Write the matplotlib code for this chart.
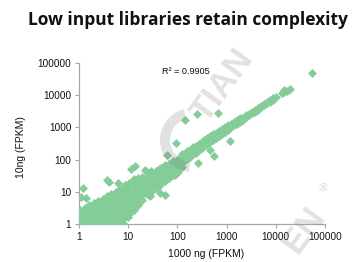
import matplotlib
matplotlib.use("Agg")
import matplotlib.pyplot as plt
from matplotlib.patches import Wedge

# ---------------- data (FPKM) ----------------
# dense low-expression cloud: 1000 ng (x) vs 10 ng (y)
cloud_x = (
    [1.07] * 4 + [1.32] * 4 + [1.62] * 5 + [2.0] * 5 + [2.45] * 6 + [3.02] * 6 +
    [3.72] * 7 + [4.57] * 7 + [5.62] * 8 + [6.92] * 8 + [8.51] * 8 + [10.5] * 8 +
    [12.9] * 8 + [15.8] * 7 + [19.5] * 6 + [24.0] * 6 + [29.5] * 6 + [36.3] * 5 +
    [44.7] * 5 + [55.0] * 5 + [67.6] * 4 + [83.2] * 4 + [102] * 4 + [126] * 4
)
cloud_y = [
    1.05, 1.45, 2.0, 2.75,
    1.23, 1.70, 2.34, 3.24,
    1.05, 1.45, 2.0, 2.75, 3.8,
    1.23, 1.70, 2.34, 3.24, 4.47,
    1.05, 1.45, 2.0, 2.75, 3.8, 5.25,
    1.23, 1.70, 2.34, 3.24, 4.47, 6.17,
    1.05, 1.45, 2.0, 2.75, 3.8, 5.25, 7.24,
    1.23, 1.70, 2.34, 3.24, 4.47, 6.17, 8.51,
    1.05, 1.45, 2.0, 2.75, 3.8, 5.25, 7.24, 10.0,
    1.32, 1.82, 2.51, 3.47, 4.79, 6.61, 9.12, 12.6,
    1.70, 2.34, 3.24, 4.47, 6.17, 8.51, 11.7, 16.2,
    2.0, 2.75, 3.8, 5.25, 7.24, 10.0, 13.8, 19.1,
    2.82, 3.89, 5.37, 7.41, 10.2, 14.1, 19.5, 25.1,
    3.8, 5.25, 7.24, 10.0, 13.8, 19.1, 26.3,
    5.62, 7.76, 10.7, 14.8, 20.4, 28.2,
    8.51, 11.7, 16.2, 22.4, 30.9, 39.8,
    10.0, 13.8, 19.1, 26.3, 36.3, 45.7,
    13.2, 18.2, 25.1, 34.7, 45.7,
    16.6, 22.9, 31.6, 43.7, 55.0,
    20.9, 28.8, 39.8, 55.0, 67.6,
    26.3, 36.3, 50.1, 72.4,
    33.1, 45.7, 63.1, 89.1,
    41.7, 57.5, 79.4, 107,
    57.5, 79.4, 110, 151,
]

# diagonal band of well-expressed genes
band_x = (
    [155] * 3 + [178] * 3 + [204] * 3 + [234] * 3 + [269] * 3 + [309] * 3 +
    [355] * 3 + [407] * 3 + [468] * 3 + [537] * 3 + [617] * 3 + [708] * 3 +
    [813] * 3 + [933] * 3 + [1072] * 3 + [1230] * 3 + [1413] * 3 + [1622] * 3 +
    [1862] * 3 + [2138] * 2 + [2455] * 2 + [2818] * 2 + [3236] * 2 + [3715] * 2 +
    [4266] * 2 + [4898] * 2 + [5754] * 2 + [6607] * 2 + [7586] * 2 + [8710] * 2 +
    [10000] + [13183] + [14791] * 2 + [16596] + [19055]
)
band_y = [
    105, 138, 182,
    120, 158, 200,
    145, 191, 240,
    166, 214, 269,
    200, 251, 309,
    229, 288, 355,
    263, 331, 407,
    309, 380, 468,
    363, 437, 525,
    417, 501, 603,
    479, 575, 692,
    550, 661, 776,
    631, 759, 891,
    741, 871, 1023,
    851, 1000, 1148,
    1000, 1148, 1318,
    1148, 1318, 1479,
    1318, 1514, 1698,
    1514, 1738, 1950,
    1738, 1995,
    2042, 2344,
    2344, 2692,
    2754, 3090,
    3090, 3548,
    3548, 4074,
    4169, 4786,
    5012, 5495,
    5754, 6310,
    6310, 7244,
    7244, 8318,
    8511,
    11749,
    12589, 14125,
    13490,
    15136,
]

# scattered outlier genes
outlier_x = [1.12, 1.23, 1.38, 3.63, 3.98, 6.31, 11.2, 13.5, 21.9, 27.5, 44.7,
             56.2, 89.1, 60.3, 95.5, 141, 245, 676, 1175, 550, 457, 263, 53703,
             8.0, 10.0]
outlier_y = [7.08, 12.9, 6.31, 23.4, 20.4, 18.2, 50.1, 63.1, 47.9, 7.41, 9.33,
             7.94, 33.1, 138, 331, 1698, 2630, 2818, 372, 126, 200, 79.4, 47863,
             1.1, 1.66]

tick_values = [1, 10, 100, 1000, 10000, 100000]
tick_labels = ["1", "10", "100", "1000", "10000", "100000"]

title = "Low input libraries retain complexity"
x_label = "1000 ng (FPKM)"
y_label = "10ng (FPKM)"
r2_text = "R\u00b2 = 0.9905"

# ---------------- figure ----------------
W, H = 362, 262
fig = plt.figure(figsize=(W / 100, H / 100), dpi=100)
ax = fig.add_axes([79 / W, 1 - 224 / H, (325 - 79) / W, (224 - 63) / H])

green = "#84cd99"
for xs, ys in ((cloud_x, cloud_y), (band_x, band_y), (outlier_x, outlier_y)):
    ax.scatter(xs, ys, s=21, marker="D", color=green, linewidths=0, zorder=3)

ax.set_xscale("log")
ax.set_yscale("log")
ax.set_xlim(1, 100000)
ax.set_ylim(1, 100000)
ax.set_xticks(tick_values)
ax.set_xticklabels(tick_labels)
ax.set_yticks(tick_values)
ax.set_yticklabels(tick_labels)
ax.minorticks_off()
for side in ("top", "right"):
    ax.spines[side].set_visible(False)
for side in ("left", "bottom"):
    ax.spines[side].set_color("#a6a6a6")
    ax.spines[side].set_linewidth(0.9)
ax.tick_params(axis="both", which="major", length=3, width=0.8, color="#a6a6a6",
               labelsize=7.2, pad=2.5, labelcolor="#111111")
for lab in ax.get_xticklabels() + ax.get_yticklabels():
    lab.set_fontfamily("Liberation Sans")

fig.text(188 / W, 1 - 20 / H, title, ha="center", va="center",
         fontsize=12.5, fontweight="bold", family="Open Sans", color="#111111")
fig.text(206 / W, 1 - 254 / H, x_label, ha="center", va="center",
         fontsize=7.5, family="Liberation Sans", color="#111111")
fig.text(21 / W, 1 - 147 / H, y_label, ha="center", va="center", rotation=90,
         fontsize=7.5, family="Liberation Sans", color="#111111")
fig.text(162 / W, 1 - 71 / H, r2_text, ha="left", va="center",
         fontsize=6.6, family="Liberation Sans", color="#111111")

# faint watermark (kept inside the figure)
wm = dict(color="#7a7a7a", alpha=0.22, fontsize=25, fontweight="bold",
          family="Liberation Sans", rotation=54, rotation_mode="anchor", zorder=10)
fig.text(207 / W, 1 - 124 / H, "TIAN", ha="left", va="baseline", **wm)
fig.text(298 / W, 1 - 255 / H, "EN", ha="left", va="baseline", **wm)
fig.text(323 / W, 1 - 188 / H, "\u00ae", ha="center", va="center", color="#7a7a7a",
         alpha=0.3, fontsize=8, family="DejaVu Sans", zorder=10)
fig.patches.append(Wedge((192, H - 140), 32, 105, 265, width=10, transform=None,
                         facecolor="#7a7a7a", alpha=0.22, edgecolor="none", zorder=10))

fig.savefig("out.png", dpi=100)
